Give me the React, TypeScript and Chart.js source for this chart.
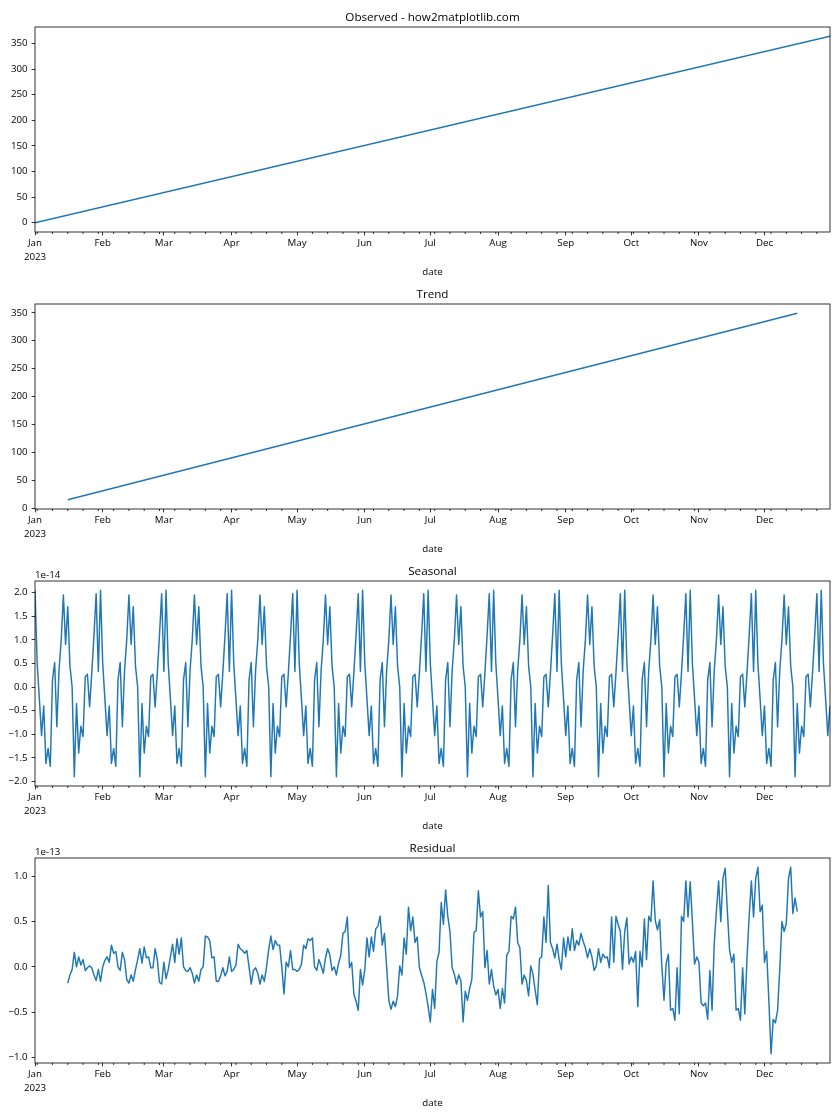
import React, { useEffect, useRef } from 'react';
import { Chart, registerables } from 'chart.js';

Chart.register(...registerables);

const FONT = '"Open Sans", "Noto Sans", sans-serif';
const LINE_COLOR = '#1f77b4';

// ---- x axis (day of year 2023) ----
const monthLabels = ['Jan', 'Feb', 'Mar', 'Apr', 'May', 'Jun', 'Jul', 'Aug', 'Sep', 'Oct', 'Nov', 'Dec'];
const monthStartDays = [0, 31, 59, 90, 120, 151, 181, 212, 243, 273, 304, 334];
const yearLabel = '2023';
const firstDay = 0;
const lastDay = 364;
const firstMonday = 1;

// ---- observed & trend (straight lines: endpoints) ----
const observedDays = [0, 364];
const observedValues = [0, 364];
const trendDays = [15, 349];
const trendValues = [15, 349];

// ---- seasonal: one 30-day period, units of 1e-14 ----
const seasonalPeriod = [
  2.05, 0.5, -0.25, -1.03, -0.4, -1.62, -1.3, -1.68, 0.15, 0.52,
  -0.84, 0.35, 1.0, 1.95, 0.9, 1.7, 0.45, 0.0, -1.9, -0.35,
  -1.4, -0.83, -1.05, 0.22, 0.27, -0.42, 0.3, 1.1, 1.98, 0.33,
];
const seasonalDays = 365;

// ---- residual: day 15 .. 349, units of 1e-13 ----
const residualStartDay = 15;
const residualValues = [
  -0.18, -0.09, -0.03, 0.16, 0.0, 0.11, 0.02, 0.08, -0.04, -0.01,
  0.01, -0.01, -0.09, -0.15, -0.03, -0.16, 0.0, 0.07, 0.11, 0.05,
  0.24, 0.15, 0.17, 0.0, -0.04, 0.16, 0.08, -0.14, -0.18, -0.09,
  -0.16, -0.03, 0.08, 0.2, 0.04, 0.22, 0.1, 0.11, -0.01, -0.01,
  0.2, 0.08, -0.17, -0.19, 0.05, -0.13, -0.03, 0.11, 0.25, 0.05,
  0.31, 0.14, 0.32, 0.0, -0.04, -0.05, -0.01, -0.07, -0.18,
  -0.09, -0.16, -0.03, 0.0, 0.34, 0.33, 0.29, 0.1, 0.11, -0.16,
  -0.16, -0.1, -0.01, -0.1, -0.05, 0.11, -0.05, -0.03, 0.02, 0.25,
  0.2, 0.18, 0.15, 0.18, 0.0, -0.19, -0.04, -0.01, -0.07, -0.19,
  -0.09, -0.16, 0.0, 0.19, 0.34, 0.19, 0.29, 0.24, 0.24, 0.0,
  -0.3, 0.05, 0.0, 0.18, -0.03, -0.03, -0.05, -0.03, 0.03, 0.24,
  0.2, 0.31, 0.29, 0.32, 0.0, -0.04, 0.08, 0.01, -0.07,
  0.1, 0.2, 0.13, -0.04, 0.0, -0.09, 0.04, 0.13, 0.37, 0.39,
  0.55, -0.01, 0.05, -0.3, -0.38, -0.48, -0.03, -0.2, -0.03, 0.32,
  0.11, 0.33, 0.17, 0.42, 0.45, 0.56, 0.24, 0.37, 0.0, -0.37,
  -0.47, -0.38, -0.44, -0.32, 0.01, -0.09, 0.32, 0.14, 0.66, 0.4,
  0.55, 0.27, 0.33, -0.01, -0.09, -0.17, -0.29, -0.44, -0.61, -0.25,
  -0.46, 0.06, 0.16, 0.71, 0.47, 0.85, 0.56, 0.39,
  -0.01, -0.08, -0.19, -0.09, -0.15, -0.61, -0.27, -0.37, -0.24, -0.14,
  0.38, 0.4, 0.84, 0.55, 0.61, -0.01, 0.18, -0.19, -0.03, -0.21,
  -0.31, -0.25, -0.46, -0.24, -0.4, 0.13, 0.17, 0.56, 0.53, 0.66,
  0.27, 0.21, -0.19, -0.09, -0.15, -0.32, 0.01, -0.08, -0.26, -0.42,
  0.09, 0.11, 0.55, 0.27, 0.9, 0.27, 0.2, 0.1, 0.25, 0.08,
  -0.03, 0.32, 0.11, 0.33, 0.18, 0.42, 0.18, 0.29, 0.24,
  0.37, 0.28, 0.21, 0.1, 0.2, 0.11, -0.04, 0.01, 0.2, 0.05,
  0.14, 0.1, 0.11, -0.01, 0.55, 0.05, 0.56, 0.47, 0.39, -0.03,
  0.39, 0.54, 0.03, 0.11, 0.05, 0.17, -0.44, 0.17, 0.0, 0.53,
  0.08, 0.56, 0.5, 0.95, 0.51, 0.41, 0.52, 0.01, -0.37, 0.04,
  0.14, -0.48, -0.46, -0.59, -0.01, -0.52, 0.56, 0.5, 0.95, 0.55,
  0.94, 0.5, 0.03, 0.11, 0.05,
  -0.4, -0.43, -0.4, -0.58, -0.04, -0.48, 0.26, 0.62, 0.95, 0.5,
  0.98, 1.09, 0.62, 0.19, 0.05, 0.14, -0.48, -0.46, -0.59, -0.01,
  -0.52, 0.1, 0.56, 0.95, 0.55, 0.98, 1.1, 0.61, 0.68, 0.05,
  0.17, -0.37, -0.96, -0.58, -0.62, -0.48, -0.03, 0.5, 0.39, 0.48,
  0.98, 1.1, 0.59, 0.76, 0.61,
];

// ---- y tick labels ----
const observedTicks = [0, 50, 100, 150, 200, 250, 300, 350];
const trendTicks = [0, 50, 100, 150, 200, 250, 300, 350];
const seasonalTicks = [-2.0, -1.5, -1.0, -0.5, 0.0, 0.5, 1.0, 1.5, 2.0];
const residualTicks = [-1.0, -0.5, 0.0, 0.5, 1.0];

type Pt = { x: number; y: number };

const minorTickDays: number[] = [];
for (let d = firstMonday; d <= lastDay; d += 7) {
  if (!monthStartDays.includes(d)) minorTickDays.push(d);
}

const fmt = (v: number, dec: number) => (v < 0 ? '\u2212' : '') + Math.abs(v).toFixed(dec);

const framePlugin = {
  id: 'frame',
  afterDraw(chart: any, _args: any, opts: any) {
    const { ctx, chartArea: a } = chart;
    const xs = chart.scales.x;
    ctx.save();
    ctx.strokeStyle = '#000';
    ctx.lineWidth = 0.8;
    for (const d of minorTickDays) {
      const px = xs.getPixelForValue(d);
      ctx.beginPath();
      ctx.moveTo(px, a.bottom);
      ctx.lineTo(px, a.bottom + 2);
      ctx.stroke();
    }
    ctx.strokeRect(a.left, a.top, a.right - a.left, a.bottom - a.top);
    ctx.fillStyle = '#000';
    ctx.font = `11.67px ${FONT}`;
    ctx.textAlign = 'center';
    ctx.textBaseline = 'alphabetic';
    ctx.fillText(opts.title, (a.left + a.right) / 2, a.top - 6);
    if (opts.offsetText) {
      ctx.font = `9.72px ${FONT}`;
      ctx.textAlign = 'left';
      ctx.fillText(opts.offsetText, a.left, a.top - 3);
    }
    ctx.restore();
  },
};

type PanelProps = {
  top: number;
  title: string;
  points: Pt[];
  yTicks: number[];
  decimals: number;
  offsetText?: string;
};

function Panel({ top, title, points, yTicks, decimals, offsetText }: PanelProps) {
  const ref = useRef<HTMLCanvasElement | null>(null);
  useEffect(() => {
    if (!ref.current) return;
    const ys = points.map((p) => p.y);
    const lo = Math.min(...ys);
    const hi = Math.max(...ys);
    const m = (hi - lo) * 0.05;
    const chart = new Chart(ref.current, {
      type: 'line',
      data: {
        datasets: [
          {
            data: points,
            borderColor: LINE_COLOR,
            borderWidth: 1.46,
            pointRadius: 0,
            fill: false,
            tension: 0,
            borderJoinStyle: 'round',
          },
        ],
      },
      options: {
        animation: false,
        responsive: false,
        devicePixelRatio: 1,
        layout: { padding: { top: 27, right: 10, left: 0, bottom: 0 } },
        plugins: {
          legend: { display: false },
          tooltip: { enabled: false },
          frame: { title, offsetText },
        } as any,
        scales: {
          x: {
            type: 'linear',
            min: firstDay,
            max: lastDay,
            afterBuildTicks: (s: any) => {
              s.ticks = monthStartDays.map((v) => ({ value: v }));
            },
            afterFit: (s: any) => {
              s.height = 46;
            },
            ticks: {
              autoSkip: false,
              maxRotation: 0,
              minRotation: 0,
              padding: 1,
              color: '#000',
              font: { family: FONT, size: 9.72, lineHeight: 1.44 },
              callback: (v: any) => {
                const i = monthStartDays.indexOf(Number(v));
                if (i < 0) return '';
                return i === 0 ? [monthLabels[0], yearLabel] : monthLabels[i];
              },
            },
            grid: {
              drawOnChartArea: false,
              drawTicks: true,
              tickLength: 3.4,
              tickColor: '#000',
              tickWidth: 0.8,
            },
            border: { display: false },
            title: {
              display: true,
              text: 'date',
              color: '#000',
              font: { family: FONT, size: 9.72, lineHeight: 1.2 },
              padding: 0,
            },
          },
          y: {
            type: 'linear',
            min: lo - m,
            max: hi + m,
            afterBuildTicks: (s: any) => {
              s.ticks = yTicks.map((v) => ({ value: v }));
            },
            afterFit: (s: any) => {
              s.width = 35;
            },
            ticks: {
              padding: 4,
              color: '#000',
              font: { family: FONT, size: 9.72 },
              callback: (v: any) => fmt(Number(v), decimals),
            },
            grid: {
              drawOnChartArea: false,
              drawTicks: true,
              tickLength: 3.4,
              tickColor: '#000',
              tickWidth: 0.8,
            },
            border: { display: false },
          },
        },
      },
      plugins: [framePlugin],
    } as any);
    return () => chart.destroy();
  }, []);
  return (
    <canvas
      ref={ref}
      width={840}
      height={278}
      style={{ position: 'absolute', left: 0, top, width: 840, height: 278 }}
    />
  );
}

export default function App() {
  const observed: Pt[] = observedDays.map((d, i) => ({ x: d, y: observedValues[i] }));
  const trend: Pt[] = trendDays.map((d, i) => ({ x: d, y: trendValues[i] }));
  const seasonal: Pt[] = [];
  for (let d = 0; d < seasonalDays; d++) {
    seasonal.push({ x: d, y: seasonalPeriod[d % seasonalPeriod.length] });
  }
  const residual: Pt[] = residualValues.map((v, i) => ({ x: residualStartDay + i, y: v }));
  return (
    <div style={{ position: 'absolute', left: 0, top: 0, width: 840, height: 1120, background: '#fff' }}>
      <Panel top={0} title="Observed - how2matplotlib.com" points={observed} yTicks={observedTicks} decimals={0} />
      <Panel top={277} title="Trend" points={trend} yTicks={trendTicks} decimals={0} />
      <Panel top={554} title="Seasonal" points={seasonal} yTicks={seasonalTicks} decimals={1} offsetText="1e-14" />
      <Panel top={831} title="Residual" points={residual} yTicks={residualTicks} decimals={1} offsetText="1e-13" />
    </div>
  );
}
